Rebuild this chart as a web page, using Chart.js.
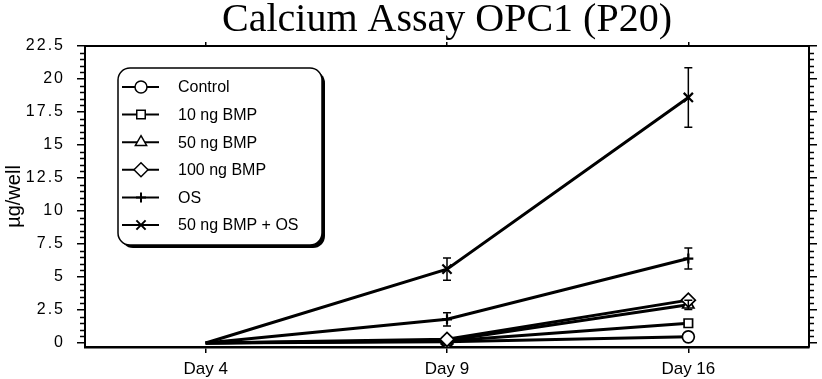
<!DOCTYPE html>
<html><head><meta charset="utf-8">
<script src="https://cdn.jsdelivr.net/npm/chart.js@4.4.1/dist/chart.umd.min.js"></script>
<style>html,body{margin:0;padding:0;background:#fff}#wrap{width:822px;height:379px}</style>
</head><body><div id="wrap"><canvas id="c" width="822" height="379"></canvas></div>
<script>
// ---- data ----
const categories = ['Day 4', 'Day 9', 'Day 16'];
const seriesNames = ['Control', '10 ng BMP', '50 ng BMP', '100 ng BMP', 'OS', '50 ng BMP + OS'];
const control = [0, 0.1, 0.47];
const bmp10 = [0, 0.15, 1.5];
const bmp50 = [0, 0.2, 2.9];
const bmp100 = [0, 0.28, 3.25];
const os = [0, 1.8, 6.4];
const bmp50os = [0, 5.6, 18.6];
const errControl = [0, 0, 0];
const errBmp10 = [0, 0, 0];
const errBmp50 = [0, 0, 0.35];
const errBmp100 = [0, 0, 0];
const errOs = [0, 0.5, 0.8];
const errBmp50os = [0, 0.85, 2.25];
const yTickValues = [0, 2.5, 5, 7.5, 10, 12.5, 15, 17.5, 20, 22.5];
const yTickLabels = ['0', '2.5', '5', '7.5', '10', '12.5', '15', '17.5', '20', '22.5'];
const yMinorStep = 0.5;
const titleText = 'Calcium Assay OPC1 (P20)';
const yTitleText = 'µg/well';

const seriesValues = [control, bmp10, bmp50, bmp100, os, bmp50os];
const seriesErrors = [errControl, errBmp10, errBmp50, errBmp100, errOs, errBmp50os];
const markerStyles = ['circle', 'rect', 'triangle', 'rectRot', 'cross', 'crossRot'];
const markerSizes = [6, 6, 6.5, 7, 5, 6.5];

// y scale with letter-spaced tick labels
class SpacedLinearScale extends Chart.LinearScale {
  drawLabels(area) {
    const ctx = this.ctx;
    ctx.save();
    ctx.letterSpacing = '2px';
    super.drawLabels(area);
    ctx.restore();
  }
}
SpacedLinearScale.id = 'spacedLinear';
SpacedLinearScale.defaults = Chart.LinearScale.defaults;
Chart.register(SpacedLinearScale);

const SANS = 'Liberation Sans';

const datasets = seriesNames.map((name, i) => ({
  label: name,
  data: seriesValues[i],
  err: seriesErrors[i],
  order: seriesNames.length - i,
  borderColor: '#000',
  borderWidth: 3,
  backgroundColor: '#fff',
  pointStyle: markerStyles[i],
  pointRadius: (c) => c.dataIndex === 0 ? 0 : markerSizes[i],
  pointBackgroundColor: '#fff',
  pointBorderColor: '#000',
  pointBorderWidth: (markerStyles[i] === 'cross' || markerStyles[i] === 'crossRot') ? 2.2 : 1.7,
  tension: 0,
  fill: false
}));

const extrasPlugin = {
  id: 'extras',
  afterDatasetsDraw(chart) {
    const ctx = chart.ctx, xs = chart.scales.x, ys = chart.scales.y;
    ctx.save();
    ctx.strokeStyle = '#000';
    ctx.lineWidth = 1.5;
    chart.data.datasets.forEach((ds) => {
      ds.data.forEach((v, j) => {
        const e = ds.err[j];
        if (!e) return;
        const px = xs.getPixelForValue(j);
        const yt = ys.getPixelForValue(v + e), yb = ys.getPixelForValue(v - e);
        ctx.beginPath();
        ctx.moveTo(px, yt); ctx.lineTo(px, yb);
        ctx.moveTo(px - 4, yt); ctx.lineTo(px + 4, yt);
        ctx.moveTo(px - 4, yb); ctx.lineTo(px + 4, yb);
        ctx.stroke();
      });
    });
    ctx.restore();
  },
  afterDraw(chart) {
    const ctx = chart.ctx, ys = chart.scales.y, a = chart.chartArea;
    ctx.save();
    ctx.strokeStyle = '#000';
    ctx.lineWidth = 1.5;
    // minor ticks
    const n = Math.round(ys.max / yMinorStep);
    for (let k = 1; k <= n; k++) {
      const v = k * yMinorStep;
      if (yTickValues.some(t => Math.abs(t - v) < 1e-6)) continue;
      const py = Math.round(ys.getPixelForValue(v)) + 0.5;
      ctx.beginPath();
      ctx.moveTo(a.left - 5, py); ctx.lineTo(a.left, py);
      ctx.moveTo(a.right, py); ctx.lineTo(a.right + 5, py);
      ctx.stroke();
    }
    // legend box
    const L = a.left + 33, T = a.top + 22, W = 204, H = 177, R = 12;
    const rr = (x, y, w, h, r) => {
      ctx.beginPath();
      ctx.moveTo(x + r, y);
      ctx.arcTo(x + w, y, x + w, y + h, r);
      ctx.arcTo(x + w, y + h, x, y + h, r);
      ctx.arcTo(x, y + h, x, y, r);
      ctx.arcTo(x, y, x + w, y, r);
      ctx.closePath();
    };
    ctx.fillStyle = '#000';
    rr(L + 3, T + 3, W, H, R); ctx.fill();
    ctx.fillStyle = '#fff';
    rr(L, T, W, H, R); ctx.fill();
    ctx.lineWidth = 1.5; ctx.stroke();
    ctx.font = '16px "' + SANS + '"';
    ctx.textBaseline = 'middle';
    ctx.textAlign = 'left';
    chart.data.datasets.forEach((ds, i) => {
      const y = T + 19 + i * 27.6;
      ctx.strokeStyle = '#000';
      ctx.lineWidth = 2;
      ctx.beginPath(); ctx.moveTo(L + 4, y); ctx.lineTo(L + 41, y); ctx.stroke();
      ctx.fillStyle = '#fff';
      ctx.lineWidth = (ds.pointStyle === 'cross' || ds.pointStyle === 'crossRot') ? 2 : 1.5;
      Chart.helpers.drawPoint(ctx, { pointStyle: ds.pointStyle, radius: markerSizes[i], rotation: 0, borderWidth: ctx.lineWidth }, L + 23, y);
      ctx.fillStyle = '#000';
      ctx.fillText(ds.label, L + 60, y + 1);
    });
    ctx.restore();
  }
};

new Chart(document.getElementById('c'), {
  type: 'line',
  data: { labels: categories, datasets },
  plugins: [extrasPlugin],
  options: {
    responsive: false,
    animation: false,
    devicePixelRatio: 1,
    layout: { padding: 0 },
    plugins: {
      legend: { display: false },
      tooltip: { enabled: false },
      title: {
        display: true, text: titleText, fullSize: false, color: '#000',
        font: { family: 'Liberation Serif', size: 40, weight: 'normal', lineHeight: 1.0 },
        padding: { top: 0, bottom: 2 }
      }
    },
    scales: {
      x: {
        type: 'category', position: 'bottom', offset: true,
        afterFit: s => { s.height = 32; },
        grid: { drawOnChartArea: false, tickLength: 6, color: '#000', lineWidth: 1.5 },
        border: { color: '#000', width: 2.5 },
        ticks: { color: '#000', font: { family: SANS, size: 17 }, padding: 6, maxRotation: 0 }
      },
      x2: {
        type: 'category', position: 'top', offset: true, labels: categories,
        afterFit: s => { s.height = 4; },
        grid: { drawOnChartArea: false, tickLength: 4, color: '#000', lineWidth: 1.5 },
        border: { color: '#000', width: 2 },
        ticks: { display: false }
      },
      y: {
        type: 'spacedLinear', position: 'left', min: -0.3, max: 22.5,
        afterBuildTicks: s => { s.ticks = yTickValues.map(v => ({ value: v })); },
        afterFit: s => { s.width = 85; },
        grid: { drawOnChartArea: false, tickLength: 8, color: '#000', lineWidth: 1.5 },
        border: { color: '#000', width: 2 },
        ticks: { color: '#000', font: { family: SANS, size: 16 }, padding: 12,
                 callback: (v, i) => yTickLabels[i] },
        title: { display: true, text: yTitleText, color: '#000',
                 font: { family: SANS, size: 20 }, padding: { top: 2, bottom: 0 } }
      },
      y2: {
        type: 'linear', position: 'right', min: -0.3, max: 22.5,
        afterBuildTicks: s => { s.ticks = yTickValues.map(v => ({ value: v })); },
        afterFit: s => { s.width = 13; },
        grid: { drawOnChartArea: false, tickLength: 8, color: '#000', lineWidth: 1.5 },
        border: { color: '#000', width: 2 },
        ticks: { display: false }
      }
    }
  }
});
</script></body></html>
